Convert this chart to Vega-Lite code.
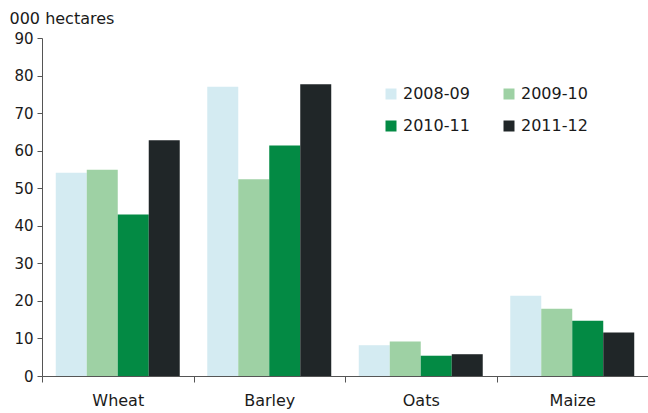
{
  "$schema": "https://vega.github.io/schema/vega-lite/v6.json",
  "autosize": "none",
  "padding": {"left": 42, "top": 38, "right": 0, "bottom": 37},
  "width": 606,
  "height": 338,
  "background": "white",
  "config": {
    "font": "DejaVu Sans",
    "view": {"stroke": null}
  },
  "data": {
    "values": [
      {"crop": "Wheat", "year": "2008-09", "area": 54.1},
      {"crop": "Wheat", "year": "2009-10", "area": 54.9},
      {"crop": "Wheat", "year": "2010-11", "area": 43.0},
      {"crop": "Wheat", "year": "2011-12", "area": 62.8},
      {"crop": "Barley", "year": "2008-09", "area": 77.0},
      {"crop": "Barley", "year": "2009-10", "area": 52.4},
      {"crop": "Barley", "year": "2010-11", "area": 61.4},
      {"crop": "Barley", "year": "2011-12", "area": 77.7},
      {"crop": "Oats", "year": "2008-09", "area": 8.2},
      {"crop": "Oats", "year": "2009-10", "area": 9.2},
      {"crop": "Oats", "year": "2010-11", "area": 5.4},
      {"crop": "Oats", "year": "2011-12", "area": 5.8},
      {"crop": "Maize", "year": "2008-09", "area": 21.4},
      {"crop": "Maize", "year": "2009-10", "area": 17.9},
      {"crop": "Maize", "year": "2010-11", "area": 14.7},
      {"crop": "Maize", "year": "2011-12", "area": 11.6}
    ]
  },
  "mark": {"type": "bar"},
  "encoding": {
    "x": {
      "field": "crop",
      "type": "nominal",
      "sort": ["Wheat", "Barley", "Oats", "Maize"],
      "scale": {"paddingInner": 0, "paddingOuter": 0},
      "axis": {
        "title": null,
        "labelAngle": 0,
        "labelFontSize": 16,
        "labelColor": "#1a1a1a",
        "labelPadding": 10,
        "tickBand": "extent",
        "tickSize": 6,
        "tickColor": "#555555",
        "domainColor": "#555555",
        "grid": false
      }
    },
    "xOffset": {
      "field": "year",
      "type": "nominal",
      "sort": ["2008-09", "2009-10", "2010-11", "2011-12"],
      "scale": {"paddingInner": 0, "paddingOuter": 0.444}
    },
    "y": {
      "field": "area",
      "type": "quantitative",
      "scale": {"domain": [0, 90], "nice": false},
      "axis": {
        "title": "000 hectares",
        "titleAngle": 0,
        "titleAlign": "left",
        "titleBaseline": "alphabetic",
        "titleX": -33,
        "titleY": -15,
        "titleFontSize": 16,
        "titleFontWeight": "normal",
        "titleColor": "#1a1a1a",
        "values": [0, 10, 20, 30, 40, 50, 60, 70, 80, 90],
        "labelFontSize": 15,
        "labelColor": "#1a1a1a",
        "labelPadding": 4,
        "tickSize": 5,
        "tickColor": "#555555",
        "domainColor": "#555555",
        "grid": false
      }
    },
    "color": {
      "field": "year",
      "type": "nominal",
      "sort": ["2008-09", "2009-10", "2010-11", "2011-12"],
      "scale": {
        "domain": ["2008-09", "2009-10", "2010-11", "2011-12"],
        "range": ["#d4ebf2", "#9ed1a4", "#038a44", "#202628"]
      },
      "legend": {
        "title": null,
        "orient": "none",
        "legendX": 341,
        "legendY": 48,
        "direction": "horizontal",
        "columns": 2,
        "symbolType": "square",
        "symbolSize": 121,
        "symbolStrokeWidth": 0,
        "labelFontSize": 16,
        "labelColor": "#1a1a1a",
        "labelOffset": 4,
        "columnPadding": 31,
        "rowPadding": 16
      }
    }
  }
}
